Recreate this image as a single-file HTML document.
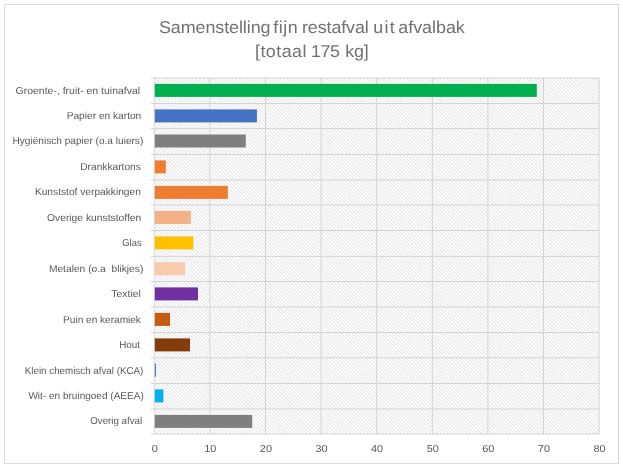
<!DOCTYPE html>
<html><head><meta charset="utf-8"><style>
html,body{margin:0;padding:0;background:#fff;width:623px;height:467px;overflow:hidden;font-family:"Liberation Sans",sans-serif;}
svg{display:block;text-rendering:geometricPrecision;will-change:transform}
</style></head><body>
<svg width="623" height="467" viewBox="0 0 623 467">
<defs><pattern id="h" patternUnits="userSpaceOnUse" width="3.64" height="3.64" patternTransform="translate(0.5,0)"><rect width="3.64" height="3.64" fill="#fff"/><path d="M-1,-1 L4.640000000000001,4.640000000000001 M-1,2.64 L1,4.640000000000001 M2.64,-1 L4.640000000000001,1" stroke="#d6d6d6" stroke-width="0.9"/></pattern></defs>
<rect width="623" height="467" fill="#fff"/>
<rect x="4.5" y="4.5" width="614" height="459" fill="none" stroke="#d9d9d9" stroke-width="1"/>
<rect x="154.3" y="78.0" width="444.80" height="356.00" fill="url(#h)"/>
<path d="M209.90,78.0 V434.00 M265.50,78.0 V434.00 M321.10,78.0 V434.00 M376.70,78.0 V434.00 M432.30,78.0 V434.00 M487.90,78.0 V434.00 M543.50,78.0 V434.00 M599.10,78.0 V434.00 M151.00,78.00 H599.10 M151.00,103.50 H599.10 M151.00,128.60 H599.10 M151.00,154.50 H599.10 M151.00,180.00 H599.10 M151.00,205.00 H599.10 M151.00,230.50 H599.10 M151.00,256.35 H599.10 M151.00,281.50 H599.10 M151.00,307.00 H599.10 M151.00,332.50 H599.10 M151.00,357.80 H599.10 M151.00,383.50 H599.10 M151.00,409.00 H599.10 M151.00,434.00 H599.10" stroke="#d4d4d4" stroke-width="1" fill="none"/>
<path d="M154.30,78.0 V434.00" stroke="#d9d9d9" stroke-width="1"/>
<rect x="154.80" y="83.90" width="382.00" height="13.0" fill="#00B050"/>
<rect x="154.80" y="109.40" width="102.10" height="13.0" fill="#4472C4"/>
<rect x="154.80" y="134.50" width="91.00" height="13.0" fill="#7F7F7F"/>
<rect x="154.80" y="160.40" width="11.00" height="13.0" fill="#ED7D31"/>
<rect x="154.80" y="185.90" width="73.10" height="13.0" fill="#ED7D31"/>
<rect x="154.80" y="210.90" width="36.10" height="13.0" fill="#F4B183"/>
<rect x="154.80" y="236.40" width="38.50" height="13.0" fill="#FFC000"/>
<rect x="154.80" y="262.25" width="30.30" height="13.0" fill="#F8CBAD"/>
<rect x="154.80" y="287.40" width="43.20" height="13.0" fill="#7030A0"/>
<rect x="154.80" y="312.90" width="15.20" height="13.0" fill="#C55A11"/>
<rect x="154.80" y="338.40" width="35.20" height="13.0" fill="#843C0C"/>
<rect x="154.80" y="363.70" width="1.10" height="13.0" fill="#4472C4"/>
<rect x="154.80" y="389.40" width="8.60" height="13.0" fill="#00B0F0"/>
<rect x="154.80" y="414.90" width="97.40" height="13.0" fill="#7F7F7F"/>
<text x="15.60" y="93.65" textLength="124.50" lengthAdjust="spacingAndGlyphs" font-family="Liberation Sans" font-size="10.0" fill="#595959">Groente-, fruit- en tuinafval</text>
<text x="66.70" y="118.95" textLength="74.60" lengthAdjust="spacingAndGlyphs" font-family="Liberation Sans" font-size="10.0" fill="#595959">Papier en karton</text>
<text x="12.50" y="144.45" textLength="130.80" lengthAdjust="spacingAndGlyphs" font-family="Liberation Sans" font-size="10.0" fill="#595959">Hygiënisch papier (o.a luiers)</text>
<text x="80.20" y="170.15" textLength="60.70" lengthAdjust="spacingAndGlyphs" font-family="Liberation Sans" font-size="10.0" fill="#595959">Drankkartons</text>
<text x="34.90" y="195.40" textLength="106.00" lengthAdjust="spacingAndGlyphs" font-family="Liberation Sans" font-size="10.0" fill="#595959">Kunststof verpakkingen</text>
<text x="47.00" y="220.65" textLength="94.30" lengthAdjust="spacingAndGlyphs" font-family="Liberation Sans" font-size="10.0" fill="#595959">Overige kunststoffen</text>
<text x="122.30" y="246.33" textLength="19.30" lengthAdjust="spacingAndGlyphs" font-family="Liberation Sans" font-size="10.0" fill="#595959">Glas</text>
<text x="48.90" y="271.82" textLength="94.40" lengthAdjust="spacingAndGlyphs" font-family="Liberation Sans" font-size="10.0" fill="#595959">Metalen (o.a  blikjes)</text>
<text x="111.20" y="297.15" textLength="29.70" lengthAdjust="spacingAndGlyphs" font-family="Liberation Sans" font-size="10.0" fill="#595959">Textiel</text>
<text x="63.10" y="322.65" textLength="77.80" lengthAdjust="spacingAndGlyphs" font-family="Liberation Sans" font-size="10.0" fill="#595959">Puin en keramiek</text>
<text x="119.20" y="348.05" textLength="20.90" lengthAdjust="spacingAndGlyphs" font-family="Liberation Sans" font-size="10.0" fill="#595959">Hout</text>
<text x="24.80" y="373.55" textLength="118.50" lengthAdjust="spacingAndGlyphs" font-family="Liberation Sans" font-size="10.0" fill="#595959">Klein chemisch afval (KCA)</text>
<text x="28.40" y="399.15" textLength="115.35" lengthAdjust="spacingAndGlyphs" font-family="Liberation Sans" font-size="10.0" fill="#595959">Wit- en bruingoed (AEEA)</text>
<text x="90.30" y="424.40" textLength="51.80" lengthAdjust="spacingAndGlyphs" font-family="Liberation Sans" font-size="10.0" fill="#595959">Overig afval</text>
<text transform="translate(154.70,452) scale(1.07,1)" text-anchor="middle" font-family="Liberation Sans" font-size="10.2" fill="#595959">0</text>
<text transform="translate(210.30,452) scale(1.07,1)" text-anchor="middle" font-family="Liberation Sans" font-size="10.2" fill="#595959">10</text>
<text transform="translate(265.90,452) scale(1.07,1)" text-anchor="middle" font-family="Liberation Sans" font-size="10.2" fill="#595959">20</text>
<text transform="translate(321.50,452) scale(1.07,1)" text-anchor="middle" font-family="Liberation Sans" font-size="10.2" fill="#595959">30</text>
<text transform="translate(377.10,452) scale(1.07,1)" text-anchor="middle" font-family="Liberation Sans" font-size="10.2" fill="#595959">40</text>
<text transform="translate(432.70,452) scale(1.07,1)" text-anchor="middle" font-family="Liberation Sans" font-size="10.2" fill="#595959">50</text>
<text transform="translate(488.30,452) scale(1.07,1)" text-anchor="middle" font-family="Liberation Sans" font-size="10.2" fill="#595959">60</text>
<text transform="translate(543.90,452) scale(1.07,1)" text-anchor="middle" font-family="Liberation Sans" font-size="10.2" fill="#595959">70</text>
<text transform="translate(599.50,452) scale(1.07,1)" text-anchor="middle" font-family="Liberation Sans" font-size="10.2" fill="#595959">80</text>
<text transform="translate(159.00,32.8) scale(1.04,1)" textLength="107.21" lengthAdjust="spacing" font-family="Liberation Sans" font-size="17.2" fill="#717171">Samenstelling</text>
<text transform="translate(273.25,32.8) scale(1.04,1)" textLength="23.56" lengthAdjust="spacing" font-family="Liberation Sans" font-size="17.2" fill="#717171">fijn</text>
<text transform="translate(302.00,32.8) scale(1.04,1)" textLength="64.18" lengthAdjust="spacing" font-family="Liberation Sans" font-size="17.2" fill="#717171">restafval</text>
<text transform="translate(373.25,32.8) scale(1.04,1)" textLength="20.67" lengthAdjust="spacing" font-family="Liberation Sans" font-size="17.2" fill="#717171">uit</text>
<text transform="translate(398.25,32.8) scale(1.04,1)" textLength="63.94" lengthAdjust="spacing" font-family="Liberation Sans" font-size="17.2" fill="#717171">afvalbak</text>
<text transform="translate(255.00,56.7) scale(1.04,1)" textLength="49.52" lengthAdjust="spacing" font-family="Liberation Sans" font-size="17.2" fill="#717171">[totaal</text>
<text transform="translate(311.00,56.7) scale(1.04,1)" textLength="27.88" lengthAdjust="spacing" font-family="Liberation Sans" font-size="17.2" fill="#717171">175</text>
<text transform="translate(345.25,56.7) scale(1.04,1)" textLength="22.60" lengthAdjust="spacing" font-family="Liberation Sans" font-size="17.2" fill="#717171">kg]</text>
</svg>
</body></html>
